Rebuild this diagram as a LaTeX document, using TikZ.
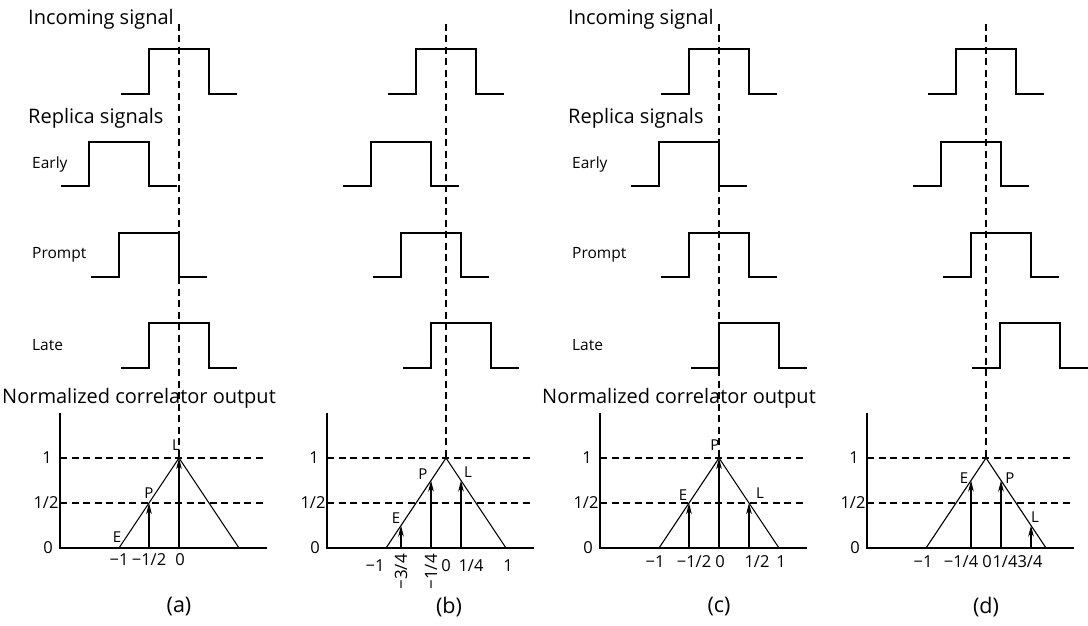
\documentclass[tikz,border=0pt]{standalone}
\usepackage{fontspec}
\setmainfont{Open Sans}
\usetikzlibrary{arrows.meta}
\newcommand{\sigpulse}[3]{% center x, high y, low y
  \draw[sig] ({#1-58},#3) -- ({#1-30},#3) -- ({#1-30},#2) -- ({#1+30},#2) -- ({#1+30},#3) -- ({#1+58},#3);}
\newcommand{\plotbase}[2]{% center x, panel id
  \draw[guide] (#1,24) -- (#1,458);
  \draw[sig] ({#1-119},413) -- ({#1-119},548) -- ({#1+88},548);
  \draw[guide] ({#1-119},458) -- ({#1+88},458);
  \draw[guide] ({#1-119},503) -- ({#1+88},503);
  \draw[sig] ({#1-60},548) -- (#1,458) -- ({#1+60},548);
  \node[num] (#2y1) at ({#1-132},458) {1};
  \node[num] (#2yh) at ({#1-133},503) {1/2};
  \node[num] (#2y0) at ({#1-131},548) {0};}
\newcommand{\corrarrow}[2]{% x, top y
  \draw[arr] (#1,548) -- (#1,#2);}
\begin{document}
\begin{tikzpicture}[x=1pt,y=-1pt,
  sig/.style={line width=1.1pt, line join=miter},
  guide/.style={line width=1.1pt, dash pattern=on 7pt off 4.5pt},
  arr/.style={line width=1.1pt, -{Stealth[length=11pt,width=5.5pt,inset=3pt]}},
  head/.style={font=\fontsize{20}{22}\selectfont, anchor=base west, inner sep=0pt},
  lab/.style={font=\fontsize{15.5}{17}\selectfont, anchor=base west, inner sep=0pt},
  num/.style={font=\fontsize{16.5}{18}\selectfont, inner sep=0pt},
  tick/.style={font=\fontsize{16.5}{18}\selectfont, inner sep=0pt, anchor=base},
  rtick/.style={font=\fontsize{17}{18}\selectfont, inner sep=0pt, anchor=east, rotate=90},
  pl/.style={font=\fontsize{15}{17}\selectfont, inner sep=0pt},
  captext/.style={font=\fontsize{21.5}{23}\selectfont, inner sep=0pt}]
\useasboundingbox (0,0) rectangle (1088,626);

% ---------- text labels, panels (a) and (c)
\foreach \dx/\id in {0/a,540/c}{
  \node[head] (\id inc) at (28+\dx,25) {Incoming signal};
  \node[head] (\id rep) at (28+\dx,124) {Replica signals};
  \node[lab] (\id early) at (32+\dx,168) {Early};
  \node[lab] (\id prompt) at (32+\dx,258) {Prompt};
  \node[lab] (\id late) at (32+\dx,350) {Late};
  \node[head] (\id norm) at (2+\dx,403) {Normalized correlator output};
}

% ---------- panel (a)
\sigpulse{179}{49}{94}
\sigpulse{119}{142}{186}
\sigpulse{149}{233}{277}
\sigpulse{179}{323}{368}
\plotbase{179}{a}
\corrarrow{149}{503}
\corrarrow{179}{458}
\node[pl] (aE) at (117,537) {E};
\node[pl] (aP) at (149,493) {P};
\node[pl] (aL) at (176,445) {L};
\node[tick] (at1) at (119,565) {−1};
\node[tick] (at2) at (149,565) {−1/2};
\node[tick] (at3) at (180,565) {0};
\node[captext] (capa) at (179,607) {(a)};

% ---------- panel (b)
\sigpulse{446}{49}{94}
\sigpulse{401}{142}{186}
\sigpulse{431}{233}{277}
\sigpulse{461}{323}{368}
\plotbase{446}{b}
\corrarrow{401}{525.5}
\corrarrow{431}{480.5}
\corrarrow{461}{480.5}
\node[pl] (bE) at (396,518) {E};
\node[pl] (bP) at (423,474) {P};
\node[pl] (bL) at (468,472) {L};
\node[tick] (bt1) at (375,571) {−1};
\node[rtick] (bt2) at (401,554) {−3/4};
\node[rtick] (bt3) at (431,554) {−1/4};
\node[tick] (bt4) at (446,571) {0};
\node[tick] (bt5) at (471,571) {1/4};
\node[tick] (bt6) at (508,571) {1};
\node[captext] (capb) at (449,607) {(b)};

% ---------- panel (c)
\sigpulse{719}{49}{94}
\sigpulse{689}{142}{186}
\sigpulse{719}{233}{277}
\sigpulse{749}{323}{368}
\plotbase{719}{c}
\corrarrow{689}{503}
\corrarrow{719}{458}
\corrarrow{749}{503}
\node[pl] (cE) at (683,495) {E};
\node[pl] (cP) at (715,445) {P};
\node[pl] (cL) at (760,493) {L};
\node[tick] (ct1) at (655,567) {−1};
\node[tick] (ct2) at (694,567) {−1/2};
\node[tick] (ct3) at (720,567) {0};
\node[tick] (ct4) at (757,567) {1/2};
\node[tick] (ct5) at (781,567) {1};
\node[captext] (capc) at (719,607) {(c)};

% ---------- panel (d)
\sigpulse{986}{49}{94}
\sigpulse{971}{142}{186}
\sigpulse{1001}{233}{277}
\sigpulse{1030}{323}{368}
\plotbase{986}{d}
\corrarrow{971}{480.5}
\corrarrow{1001}{480.5}
\corrarrow{1031}{525.5}
\node[pl] (dE) at (964,478) {E};
\node[pl] (dP) at (1010,478) {P};
\node[pl] (dL) at (1035,517) {L};
\node[tick] (dt1) at (923,567) {−1};
\node[tick] (dt2) at (961,567) {−1/4};
\node[tick] (dt3) at (987,567) {0};
\node[tick] (dt4) at (1005,567) {1/4};
\node[tick] (dt5) at (1030,567) {3/4};
\node[captext] (capd) at (986,607) {(d)};
\end{tikzpicture}
\end{document}
